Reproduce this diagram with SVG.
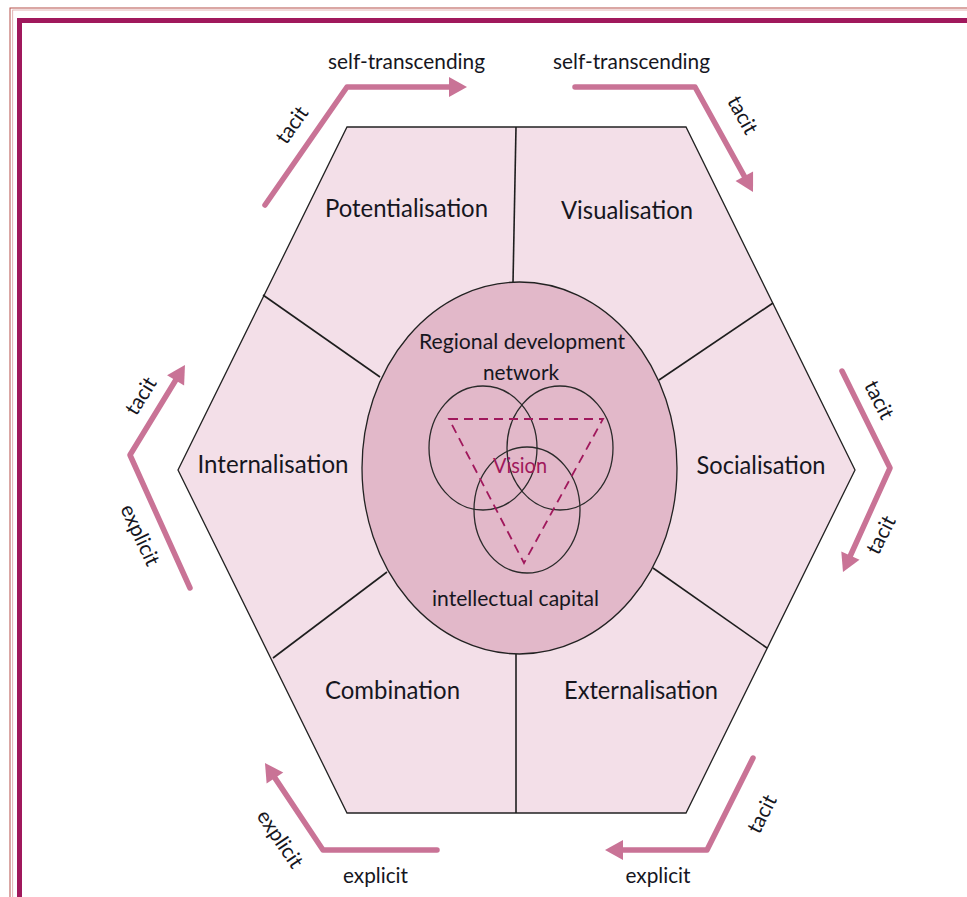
<svg xmlns="http://www.w3.org/2000/svg" width="967" height="897" viewBox="0 0 967 897">
<style>
.lbl{font-family:Lato,"Open Sans","Liberation Sans",sans-serif;fill:#16161e;text-anchor:middle}
.big{font-size:24.5px}
.mid{font-size:21.5px}
.sm{font-size:21px}
.div{stroke:#1e1e1e;stroke-width:1.6;fill:none}
.arr{stroke:#c97396;stroke-width:5.5;fill:none;stroke-linecap:round;stroke-linejoin:round;marker-end:url(#head)}
.ven{fill:none;stroke:#2a2a2a;stroke-width:1.3}
</style>
<defs>
<marker id="head" markerUnits="userSpaceOnUse" viewBox="0 -10 18 20" refX="1" refY="0" markerWidth="18" markerHeight="20" orient="auto" overflow="visible">
<path d="M0,-10 L18,0 L0,10 z" fill="#c97396"/>
</marker>
</defs>
<rect width="967" height="897" fill="#ffffff"/>
<g id="frame">
<rect x="10" y="8" width="980" height="920" fill="none" stroke="#b5504a" stroke-width="1"/>
<rect x="12.7" y="10" width="980" height="920" fill="none" stroke="#dba0a0" stroke-width="0.8"/>
<rect x="19.5" y="20.5" width="980" height="920" fill="none" stroke="#a0185c" stroke-width="5"/>
</g>
<g id="hexagon">
<polygon points="347,127 686,127 855,470 686,813 347,813 178,470" fill="#f3dfe8" stroke="#222" stroke-width="1.3"/>
</g>
<g id="dividers">
<line class="div" x1="516" y1="127" x2="513" y2="283"/>
<line class="div" x1="516" y1="654" x2="516" y2="813"/>
<line class="div" x1="263" y1="295" x2="380" y2="377"/>
<line class="div" x1="773" y1="303" x2="659" y2="380"/>
<line class="div" x1="273" y1="658" x2="387" y2="572"/>
<line class="div" x1="767" y1="648" x2="653" y2="568"/>
</g>
<g id="node-potentialisation"><text class="lbl big" x="406.5" y="217" textLength="163" lengthAdjust="spacingAndGlyphs">Potentialisation</text></g>
<g id="node-visualisation"><text class="lbl big" x="627" y="219" textLength="132" lengthAdjust="spacingAndGlyphs">Visualisation</text></g>
<g id="node-internalisation"><text class="lbl big" x="273" y="473" textLength="151" lengthAdjust="spacingAndGlyphs">Internalisation</text></g>
<g id="node-socialisation"><text class="lbl big" x="761" y="474" textLength="129" lengthAdjust="spacingAndGlyphs">Socialisation</text></g>
<g id="node-combination"><text class="lbl big" x="392.5" y="699" textLength="135" lengthAdjust="spacingAndGlyphs">Combination</text></g>
<g id="node-externalisation"><text class="lbl big" x="641" y="699" textLength="154" lengthAdjust="spacingAndGlyphs">Externalisation</text></g>
<g id="node-core">
<ellipse cx="519.5" cy="468" rx="157.5" ry="186" fill="#e2b8c9" stroke="#222" stroke-width="1.3"/>
<text class="lbl mid" x="522" y="349" textLength="206" lengthAdjust="spacingAndGlyphs">Regional development</text>
<text class="lbl mid" x="521" y="380" textLength="76" lengthAdjust="spacingAndGlyphs">network</text>
<text class="lbl mid" x="515.5" y="606" textLength="167" lengthAdjust="spacingAndGlyphs">intellectual capital</text>
</g>
<g id="node-vision">
<ellipse class="ven" cx="483" cy="448" rx="54" ry="62"/>
<ellipse class="ven" cx="560" cy="448" rx="53" ry="62"/>
<ellipse class="ven" cx="527" cy="510" rx="53" ry="63"/>
<polygon points="449,419 603,419 524,563" fill="none" stroke="#a0185c" stroke-width="1.8" stroke-dasharray="9,6"/>
<text x="520" y="473" font-family="Lato,'Open Sans','Liberation Sans',sans-serif" font-size="21.5" fill="#a0185c" text-anchor="middle" textLength="54" lengthAdjust="spacingAndGlyphs">Vision</text>
</g>
<g id="connectors">
<path class="arr" d="M265,205 L347,87 L450,87"/>
<path class="arr" d="M575,87 L695,87 L744.8,177.1"/>
<path class="arr" d="M842,371 L890,468 L850,556.5"/>
<path class="arr" d="M753,758 L707,850 L622,850"/>
<path class="arr" d="M437,850 L323,850 L274.4,777.1"/>
<path class="arr" d="M190,588 L130,455 L176.1,379.5"/>
</g>
<g id="connector-labels">
<text class="lbl sm" x="406.5" y="69" textLength="157" lengthAdjust="spacingAndGlyphs">self-transcending</text>
<text class="lbl sm" x="631.5" y="69" textLength="157" lengthAdjust="spacingAndGlyphs">self-transcending</text>
<text class="lbl sm" x="375.5" y="883" textLength="65" lengthAdjust="spacingAndGlyphs">explicit</text>
<text class="lbl sm" x="658" y="883" textLength="65" lengthAdjust="spacingAndGlyphs">explicit</text>
<text class="lbl sm" transform="translate(292,125) rotate(-55)" y="7" textLength="40" lengthAdjust="spacingAndGlyphs">tacit</text>
<text class="lbl sm" transform="translate(742.5,115) rotate(61)" y="7" textLength="40" lengthAdjust="spacingAndGlyphs">tacit</text>
<text class="lbl sm" transform="translate(879,400) rotate(63)" y="7" textLength="40" lengthAdjust="spacingAndGlyphs">tacit</text>
<text class="lbl sm" transform="translate(881,535) rotate(-63)" y="7" textLength="40" lengthAdjust="spacingAndGlyphs">tacit</text>
<text class="lbl sm" transform="translate(141,396) rotate(-58)" y="7" textLength="40" lengthAdjust="spacingAndGlyphs">tacit</text>
<text class="lbl sm" transform="translate(140,535) rotate(65)" y="7" textLength="65" lengthAdjust="spacingAndGlyphs">explicit</text>
<text class="lbl sm" transform="translate(280,839) rotate(56)" y="7" textLength="65" lengthAdjust="spacingAndGlyphs">explicit</text>
<text class="lbl sm" transform="translate(762,814) rotate(-63)" y="7" textLength="40" lengthAdjust="spacingAndGlyphs">tacit</text>
</g>
</svg>
